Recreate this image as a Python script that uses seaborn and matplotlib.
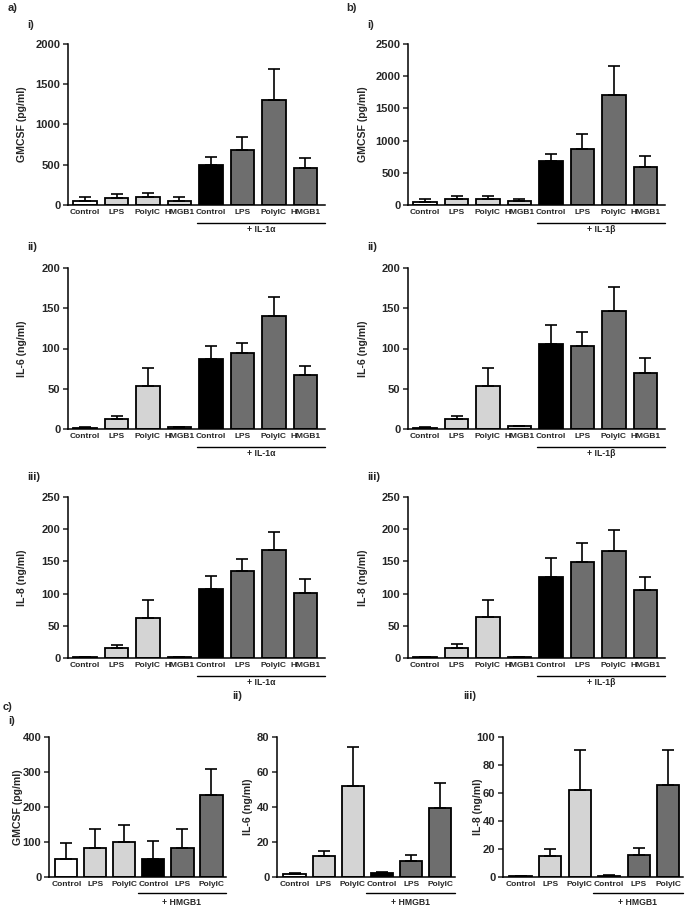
import numpy as np
import pandas as pd
import matplotlib
matplotlib.use("Agg")
import matplotlib.pyplot as plt
import matplotlib.transforms as mtransforms
import seaborn as sns

sns.set_theme(style="ticks")
plt.rcParams['font.family'] = ['Liberation Sans', 'DejaVu Sans']
plt.rcParams['font.weight'] = 'bold'

# ---------------- data ----------------
labels8 = ["Control", "LPS", "PolyIC", "HMGB1", "Control", "LPS", "PolyIC", "HMGB1"]
labels6 = ["Control", "LPS", "PolyIC", "Control", "LPS", "PolyIC"]

a1_mean = [55, 82, 103, 54, 491, 689, 1307, 454]
a1_err = [45, 50, 41, 45, 111, 160, 388, 127]
b1_mean = [52, 88, 93, 62, 687, 873, 1715, 589]
b1_err = [41, 46, 52, 31, 108, 227, 439, 165]

a2_mean = [1.7, 12.8, 52.9, 2.0, 87.2, 94.6, 140, 67]
a2_err = [0.8, 2.9, 22.3, 1.0, 15.8, 12, 24.5, 11.5]
b2_mean = [1.7, 12.8, 53.3, 3.3, 105, 103.7, 146, 70]
b2_err = [0.8, 3.2, 22.3, 0.4, 24, 17.3, 31, 17.6]

a3_mean = [1, 15, 62.6, 1, 106.6, 135.6, 168.2, 101.4]
a3_err = [0.5, 5.7, 28, 1, 20.7, 18.6, 27.5, 21.3]
b3_mean = [1, 15, 63, 1, 125.8, 148.5, 166.7, 106]
b3_err = [1, 6, 27.6, 1, 29.5, 29.5, 32.6, 19.8]

c1_mean = [52.6, 84, 99.5, 52.6, 83, 233.5]
c1_err = [45, 53, 48.5, 49, 54, 75.5]
c2_mean = [1.7, 11.9, 52.2, 2.3, 9, 39.6]
c2_err = [0.6, 3.2, 22.2, 0.6, 3.4, 14]
c3_mean = [0.5, 14.8, 62.4, 0.7, 16, 65.8]
c3_err = [0.2, 5.5, 28, 0.5, 5, 24.6]

colors8 = ["#ffffff", "#d4d4d4", "#d4d4d4", "#d4d4d4", "#000000", "#6e6e6e", "#6e6e6e", "#6e6e6e"]
colors6 = ["#ffffff", "#d4d4d4", "#d4d4d4", "#000000", "#6e6e6e", "#6e6e6e"]

W, H = 685, 907
fig = plt.figure(figsize=(W / 100, H / 100), dpi=100)


def px_axes(x0, y0, x1, y1):
    return fig.add_axes([x0 / W, 1 - y1 / H, (x1 - x0) / W, (y1 - y0) / H])


def panel(ax, labels, means, errs, colors, ymax, ystep, ylabel, bracket_text,
          xlim, br_start, ylab_x, br_line_y, br_text_y):
    n = len(labels)
    ids = [f"g{i}" for i in range(n)]
    df = pd.DataFrame({"grp": ids, "val": means})
    sns.barplot(data=df, x="grp", y="val", hue="grp", order=ids, hue_order=ids,
                palette=dict(zip(ids, colors)), legend=False, width=0.76,
                edgecolor="black", linewidth=1.3, ax=ax, errorbar=None)
    xs = np.arange(n)
    ax.errorbar(xs, means, yerr=[np.zeros(n), errs], fmt="none", ecolor="black",
                elinewidth=1.2, capsize=4.2, capthick=1.2, zorder=1)
    ax.set_ylim(0, ymax)
    ax.set_yticks(np.arange(0, ymax + ystep / 2, ystep))
    ax.set_xlim(*xlim)
    ax.set_xticks(xs)
    ax.set_xticklabels(labels, fontsize=6.0, fontweight="bold")
    ax.set_xlabel("")
    ax.set_ylabel(ylabel, fontsize=7.6, fontweight="bold")
    ax.yaxis.set_label_coords(ylab_x, 0.5)
    ax.tick_params(axis="y", length=3.5, width=1.1, labelsize=8, pad=2)
    ax.tick_params(axis="x", length=0, pad=3)
    for t in ax.get_yticklabels():
        t.set_fontweight("bold")
    sns.despine(ax=ax)
    for s in ["left", "bottom"]:
        ax.spines[s].set_linewidth(1.1)
        ax.spines[s].set_color("black")
    trans = mtransforms.blended_transform_factory(ax.transData, ax.transAxes)
    ax.plot([br_start, xlim[1]], [br_line_y, br_line_y], color="black", lw=1.0,
            transform=trans, clip_on=False)
    ax.text((br_start + xlim[1]) / 2, br_text_y, bracket_text, transform=trans,
            ha="center", va="center", fontsize=6.2, fontweight="bold")


# top grid (a, b)
rows = [(44, 205), (268, 429), (497, 658)]
a_data = [(a1_mean, a1_err, 2000, 500, "GMCSF (pg/ml)"),
          (a2_mean, a2_err, 200, 50, "IL-6 (ng/ml)"),
          (a3_mean, a3_err, 250, 50, "IL-8 (ng/ml)")]
b_data = [(b1_mean, b1_err, 2500, 500, "GMCSF (pg/ml)"),
          (b2_mean, b2_err, 200, 50, "IL-6 (ng/ml)"),
          (b3_mean, b3_err, 250, 50, "IL-8 (ng/ml)")]

for (y0, y1), (m, e, ymax, ys, yl) in zip(rows, a_data):
    ax = px_axes(68, y0, 325, y1)
    panel(ax, labels8, m, e, colors8, ymax, ys, yl, "+ IL-1\u03b1",
          (-0.54, 7.62), 3.55, -0.16, -0.112, -0.155)
for (y0, y1), (m, e, ymax, ys, yl) in zip(rows, b_data):
    ax = px_axes(408, y0, 665, y1)
    panel(ax, labels8, m, e, colors8, ymax, ys, yl, "+ IL-1\u03b2",
          (-0.54, 7.62), 3.55, -0.156, -0.112, -0.155)

# bottom row (c)
c_axes = [(49, 226, c1_mean, c1_err, 400, 100, "GMCSF (pg/ml)", -0.147),
          (277, 455, c2_mean, c2_err, 80, 20, "IL-6 (ng/ml)", -0.135),
          (503, 683, c3_mean, c3_err, 100, 20, "IL-8 (ng/ml)", -0.111)]
for x0, x1, m, e, ymax, ys, yl, lx in c_axes:
    ax = px_axes(x0, 737, x1, 877)
    panel(ax, labels6, m, e, colors6, ymax, ys, yl, "+ HMGB1",
          (-0.6, 5.5), 2.45, lx, -0.114, -0.18)

# panel letters
def ftxt(x, y, s):
    fig.text(x / W, 1 - y / H, s, ha="left", va="center", fontsize=8, fontweight="bold")

ftxt(8, 8, "a)")
ftxt(27, 25, "i)")
ftxt(27, 247, "ii)")
ftxt(27, 477, "iii)")
ftxt(346, 8, "b)")
ftxt(367, 25, "i)")
ftxt(367, 247, "ii)")
ftxt(367, 477, "iii)")
ftxt(3, 707, "c)")
ftxt(8, 721, "i)")
ftxt(232, 696, "ii)")
ftxt(463, 696, "iii)")

fig.savefig("out.png", dpi=100, facecolor="white")
